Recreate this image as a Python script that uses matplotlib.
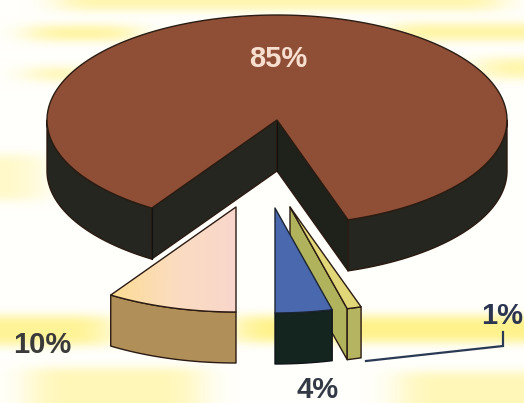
import numpy as np
import matplotlib
matplotlib.use("Agg")
import matplotlib.pyplot as plt
import matplotlib.colors as mcolors
from matplotlib.patches import Polygon

# ---------------------------------------------------------------
# Data
# ---------------------------------------------------------------
labels = ["85%", "10%", "4%", "1%"]
shares = [85, 10, 4, 1]

# pale yellow streaks behind the pie: x0, y0, x1, y1, strength
streaks = [
    (60, 0, 500, 10, 0.7),
    (30, 26, 135, 40, 0.85),
    (390, 24, 524, 40, 0.8),
    (30, 68, 90, 80, 0.7),
    (480, 58, 524, 78, 0.7),
    (0, 155, 40, 200, 0.45),
    (0, 316, 110, 345, 0.9),
    (236, 316, 524, 342, 1.0),
    (30, 368, 200, 403, 0.6),
    (400, 372, 524, 403, 0.6),
]

W, H = 524, 403
CX, CY = 277, 120
RX, RY = 230, 105
DEPTH = 51
LEFT_TRIM = 3  # the left cut sits a bit inward in the scan
EDGE = "#2b1a12"

# explode offset of each small slice apex from the pie centre
offsets = {"10%": (-41, 87), "4%": (-2, 88), "1%": (13, 87)}


def rim(a0, a1, n=60):
    """Points on the top ellipse, angle in degrees from straight down, + is right."""
    t = np.radians(np.linspace(a0, a1, n))
    return np.column_stack([RX * np.sin(t), RY * np.cos(t)])


def drop(pts, d=DEPTH):
    return np.asarray(pts) + [0, d]


def poly(ax, pts, color, edge=EDGE, lw=1.0, z=2):
    p = Polygon(pts, closed=True, facecolor=color, edgecolor=edge, linewidth=lw,
                joinstyle="round", zorder=z)
    ax.add_patch(p)
    return p


def make_background():
    bg = np.zeros((H, W))
    for x0, y0, x1, y1, s in streaks:
        bg[y0:y1, x0:x1] = np.maximum(bg[y0:y1, x0:x1], s)
    # cheap blur along both axes
    for size, axis in ((41, 1), (11, 0), (41, 1), (11, 0)):
        kernel = np.ones(size) / size
        pad = [(size, size) if i == axis else (0, 0) for i in range(2)]
        padded = np.pad(bg, pad, mode="edge")
        padded = np.apply_along_axis(np.convolve, axis, padded, kernel, mode="same")
        bg = padded[size:-size, :] if axis == 0 else padded[:, size:-size]
    white = np.array([1.0, 1.0, 0.985])
    yellow = np.array([1.0, 0.95, 0.55])
    return white + bg[..., None] * (yellow - white)


fig = plt.figure(figsize=(W / 100, H / 100), dpi=100)
ax = fig.add_axes([0, 0, 1, 1])
ax.set_xlim(0, W)
ax.set_ylim(H, 0)
ax.axis("off")
ax.imshow(make_background(), extent=(0, W, H, 0), aspect="auto", zorder=0)

# slice angles come from the shares, small slices sit around straight down
deg = [s * 3.6 for s in shares]
a_10 = (-deg[1] + LEFT_TRIM, 0)
a_4 = (0, deg[2])
a_1 = (deg[2], deg[2] + deg[3])

# ---------------------------------------------------------------
# Big slice
# ---------------------------------------------------------------
c = np.array([CX, CY])
SIDE = "#24261f"
right_end = a_1[1]
left_end = right_end - (360 - deg[0]) + LEFT_TRIM
right_edge = c + rim(right_end, right_end, 1)[0]
left_edge = c + rim(left_end, left_end, 1)[0]

# outer wall, right and left of the gap
for a0, a1 in ((right_end, 90), (-90, left_end)):
    arc = c + rim(a0, a1)
    poly(ax, np.vstack([arc, drop(arc)[::-1]]), SIDE, z=2)
# inner walls of the gap
poly(ax, [c, left_edge, drop(left_edge), drop(c)], SIDE, z=3)
poly(ax, [c, right_edge, drop(right_edge), drop(c)], "#1f211b", z=3)
ax.plot([left_edge[0]] * 2, [left_edge[1], left_edge[1] + DEPTH], color="#111", lw=0.8, zorder=3)
ax.plot([CX, CX], [CY, CY + DEPTH], color="#111", lw=0.8, zorder=3)
top = np.vstack([[c], c + rim(right_end, 360 + left_end, 200)])
poly(ax, top, "#8f4e36", edge="#2a1c12", z=4)

# ---------------------------------------------------------------
# 10% slice
# ---------------------------------------------------------------
o = c + offsets["10%"]
arc = o + rim(*a_10)
poly(ax, np.vstack([arc, drop(arc)[::-1]]), "#b08f58", z=5)
# top face with the soft pink to yellow shading
pts = np.vstack([[o], arc])
poly(ax, pts, "none", z=7)
grad = np.linspace(0, 1, 128)[None, :]
cmap = mcolors.LinearSegmentedColormap.from_list("top10", ["#fddc93", "#fbdcc0", "#f9d6cc"])
im = ax.imshow(grad, extent=(pts[:, 0].min(), pts[:, 0].max(), pts[:, 1].max(), pts[:, 1].min()),
               cmap=cmap, aspect="auto", zorder=6)
ax.set_xlim(0, W)
ax.set_ylim(H, 0)
im.set_clip_path(Polygon(pts, closed=True, transform=ax.transData))

# ---------------------------------------------------------------
# 1% slice, goes behind the 4% slice
# ---------------------------------------------------------------
o = c + offsets["1%"]
p0 = o + rim(a_1[0], a_1[0], 1)[0]
p1 = o + rim(a_1[1], a_1[1], 1)[0]
poly(ax, [o, p0, drop(p0), drop(o)], "#b0b35c", z=5)
poly(ax, [p0, p1, drop(p1), drop(p0)], "#b5b561", z=6)
poly(ax, [o, p0, p1], "#e2d778", z=6)

# ---------------------------------------------------------------
# 4% slice
# ---------------------------------------------------------------
o = c + offsets["4%"]
arc = o + rim(*a_4, 12)
poly(ax, np.vstack([arc, drop(arc)[::-1]]), "#14241f", edge="#101418", z=7)
poly(ax, np.vstack([[o], arc]), "#4a68ae", edge="#1c2430", z=8)

# ---------------------------------------------------------------
# Labels
# ---------------------------------------------------------------
font = dict(family="Liberation Sans", fontweight="bold", fontsize=21, zorder=10)
ax.text(278, 59, labels[0], color="#f7dfd0", ha="center", va="center", **font)
ax.text(42, 345, labels[1], color="#3a3a3a", ha="center", va="center", **font)
ax.text(318, 390, labels[2], color="#333a45", ha="center", va="center", **font)
ax.text(502, 316, labels[3], color="#2b3550", ha="center", va="center", **font)

# leader for the 1% label
ax.plot([366, 503, 503], [361, 346, 332], color="#2a3a55", lw=1.6, zorder=9,
        solid_joinstyle="miter")

fig.savefig("out.png", dpi=100)
